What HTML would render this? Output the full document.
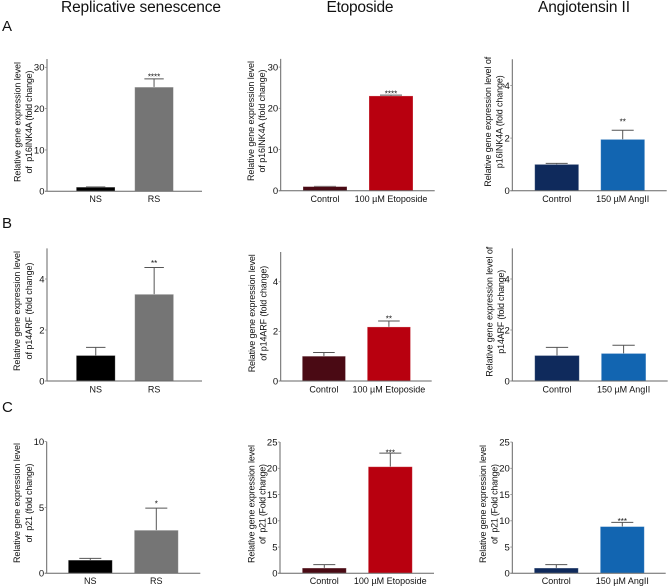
<!DOCTYPE html>
<html lang="en">
<head>
<meta charset="utf-8">
<title>Relative gene expression panels</title>
<style>
html,body{margin:0;padding:0;background:#fff;width:669px;height:588px;overflow:hidden}
svg{display:block;font-family:"Liberation Sans",Arial,sans-serif;filter:blur(0.3px)}
svg text{white-space:pre}
</style>
</head>
<body>
<svg id="figure" width="669" height="588" viewBox="0 0 669 588" xmlns="http://www.w3.org/2000/svg">
  <rect width="669" height="588" fill="#fff"/>
  <text x="61" y="12" font-size="15.5" fill="#111" textLength="160">Replicative senescence</text>
  <text x="326.5" y="12" font-size="15.5" fill="#111" textLength="67">Etoposide</text>
  <text x="538" y="12" font-size="15.5" fill="#111" textLength="92">Angiotensin II</text>
  <text x="2" y="31" font-size="15" fill="#111">A</text>
  <text x="2" y="228" font-size="15" fill="#111">B</text>
  <text x="2" y="412" font-size="15" fill="#111">C</text>
</svg>
<script>
// Data (one entry per panel, row by row)
const panelIds = ['a-senescence', 'a-etoposide', 'a-angiotensin', 'b-senescence', 'b-etoposide', 'b-angiotensin', 'c-senescence', 'c-etoposide', 'c-angiotensin'];
const categories = [
  ['NS', 'RS'], ['Control', '100 µM Etoposide'], ['Control', '150 µM AngII'],
  ['NS', 'RS'], ['Control', '100 µM Etoposide'], ['Control', '150 µM AngII'],
  ['NS', 'RS'], ['Control', '100 µM Etoposide'], ['Control', '150 µM AngII']
];
const means = [
  [1, 25.2], [1, 23], [1, 1.95],
  [1, 3.4], [1, 2.18], [1, 1.08],
  [1, 3.27], [1, 20.3], [1, 8.9]
];
const errorTops = [
  [1.08, 27.2], [1.05, 23.2], [1.04, 2.3],
  [1.32, 4.45], [1.15, 2.42], [1.32, 1.4],
  [1.13, 4.95], [1.65, 22.9], [1.65, 9.7]
];
const significance = ['****', '****', '**', '**', '**', '', '*', '***', '***'];
const tickLabels = [
  [0, 10, 20, 30], [0, 10, 20, 30], [0, 2, 4],
  [0, 2, 4], [0, 2, 4], [0, 2, 4],
  [0, 5, 10], [0, 5, 10, 15, 20, 25], [0, 5, 10, 15, 20, 25]
];
const axisMax = [32, 32, 5, 5.2, 5.2, 5.2, 10, 25, 25];
const yLabelFirst = [
  'Relative gene expression level', 'Relative gene expression level', 'Relative gene expression level of',
  'Relative gene expression level', 'Relative gene expression level', 'Relative gene expression level of',
  'Relative gene expression level', 'Relative gene expression level', 'Relative gene expression level'
];
const yLabelSecond = [
  'of  p16INK4A (fold change)', 'of p16INK4A (fold change)', 'p16INK4A (fold change)',
  'of p14ARF (fold change)', 'of p14ARF (fold change)', 'p14ARF (fold change)',
  'of  p21 (fold change)', 'of  p21 (Fold change)', 'of  p21 (Fold change)'
];

// Layout only (no chart values)
const frames = [
  {ax:47,   right:202,   y0:191.3, unit:4.133, barL:[76.3,134.7],  barW:38.7, lx:[20.7,32],    ly:122,   lw:[120,103], gap:4, xb:202},
  {ax:280.7,right:434.7, y0:190.7, unit:4.12,  barL:[303,369],     barW:44,   lx:[254,265],    ly:121,   lw:[120,103], gap:3, xb:202},
  {ax:512.3,right:666.7, y0:190.7, unit:26.3,  barL:[534.7,600.7], barW:44,   lx:[491,502.7],  ly:121.7, lw:[130,93],  gap:10,xb:202},
  {ax:47,   right:202,   y0:381,   unit:25.5,  barL:[76.3,134.7],  barW:38.9, lx:[20,32],      ly:311,   lw:[120,97],  gap:6, xb:392.7},
  {ax:280.7,right:431.7, y0:381,   unit:24.8,  barL:[302.3,367.3], barW:43.2, lx:[255,266.5],  ly:313.3, lw:[118,95],  gap:4, xb:392.7},
  {ax:512.3,right:667.7, y0:381,   unit:25.5,  barL:[534.7,601.3], barW:44.6, lx:[492.7,504],  ly:311.7, lw:[130,84],  gap:6, xb:392.7},
  {ax:46.7, right:200.3, y0:573.3, unit:13.17, barL:[68.3,134.3],  barW:44,   lx:[20,32],      ly:503,   lw:[120,79],  gap:6, xb:584},
  {ax:280,  right:434,   y0:573.3, unit:5.25,  barL:[302.3,368.3], barW:44,   lx:[254.5,265.5],ly:504,   lw:[118,80],  gap:2, xb:584},
  {ax:512.3,right:665.7, y0:573.3, unit:5.25,  barL:[534.3,600.3], barW:44,   lx:[486,497.7],  ly:504,   lw:[118,80],  gap:3, xb:584}
];
const barFills = [
  ['#000000', '#757575'], ['#4a0a14', '#b8000f'], ['#0f2a5c', '#1265b1'],
  ['#000000', '#757575'], ['#4a0a14', '#b8000f'], ['#0f2a5c', '#1265b1'],
  ['#000000', '#757575'], ['#4a0a14', '#b8000f'], ['#0f2a5c', '#1265b1']
];

const svgNS = 'http://www.w3.org/2000/svg';
const root = document.getElementById('figure');

function make(parent, tag, attrs, content) {
  const el = document.createElementNS(svgNS, tag);
  for (const k in attrs) el.setAttribute(k, attrs[k]);
  if (content !== undefined) el.textContent = content;
  parent.appendChild(el);
  return el;
}

panelIds.forEach(function (id, p) {
  const f = frames[p];
  const yScale = function (v) { return f.y0 - v * f.unit; };

  const group = make(root, 'g', {});
  
  

  // bars and error bars
  means[p].forEach(function (value, i) {
    const left = f.barL[i];
    const cx = left + f.barW / 2;
    const top = errorTops[p][i];

    const stem = make(group, 'line', {x1: cx, x2: cx, y1: yScale(value), y2: yScale(top), stroke: '#555', 'stroke-width': 1});
    
    

    const cap = make(group, 'line', {x1: cx - f.barW / 4, x2: cx + f.barW / 4, y1: yScale(top), y2: yScale(top), stroke: '#555', 'stroke-width': 1});
    
    

    const bar = make(group, 'rect', {x: left, y: yScale(value), width: f.barW, height: f.y0 - yScale(value), fill: barFills[p][i], stroke: '#fff', 'stroke-opacity': 0.35, 'stroke-width': 0.8});
    
    

    const label = make(group, 'text', {x: cx, y: f.xb, 'font-size': 9, 'text-anchor': 'middle', fill: '#111'}, categories[p][i]);
    
    
  });

  // significance marker above the treated bar
  if (significance[p]) {
    const sx = f.barL[1] + f.barW / 2;
    const stars = make(group, 'text', {x: sx, y: yScale(errorTops[p][1]) - f.gap + 4.5, 'font-size': 8, 'text-anchor': 'middle', fill: '#111'}, significance[p]);
    
    
  }

  // axes
  const yAxis = make(group, 'line', {x1: f.ax, x2: f.ax, y1: f.y0, y2: yScale(axisMax[p]), stroke: '#666', 'stroke-width': 1});
  
  

  const xAxis = make(group, 'line', {x1: f.ax - 2, x2: f.right, y1: f.y0, y2: f.y0, stroke: '#666', 'stroke-width': 1});
  
  

  // ticks
  tickLabels[p].forEach(function (t) {
    const tick = make(group, 'line', {x1: f.ax - 2, x2: f.ax, y1: yScale(t), y2: yScale(t), stroke: '#888', 'stroke-width': 0.8});
    
    

    const tl = make(group, 'text', {x: f.ax - 2.5, y: yScale(t) + 3.3, 'font-size': 9.5, 'text-anchor': 'end', fill: '#111'}, String(t));
    
    
  });

  // y-axis title lines
  [yLabelFirst[p], yLabelSecond[p]].forEach(function (line, n) {
    const title = make(group, 'text', {
      transform: 'translate(' + f.lx[n] + ' ' + f.ly + ') rotate(-90)',
      'font-size': 9,
      'text-anchor': 'middle',
      fill: '#111',
      textLength: f.lw[n]
    }, line);
    
    
  });
});
</script>
</body>
</html>
